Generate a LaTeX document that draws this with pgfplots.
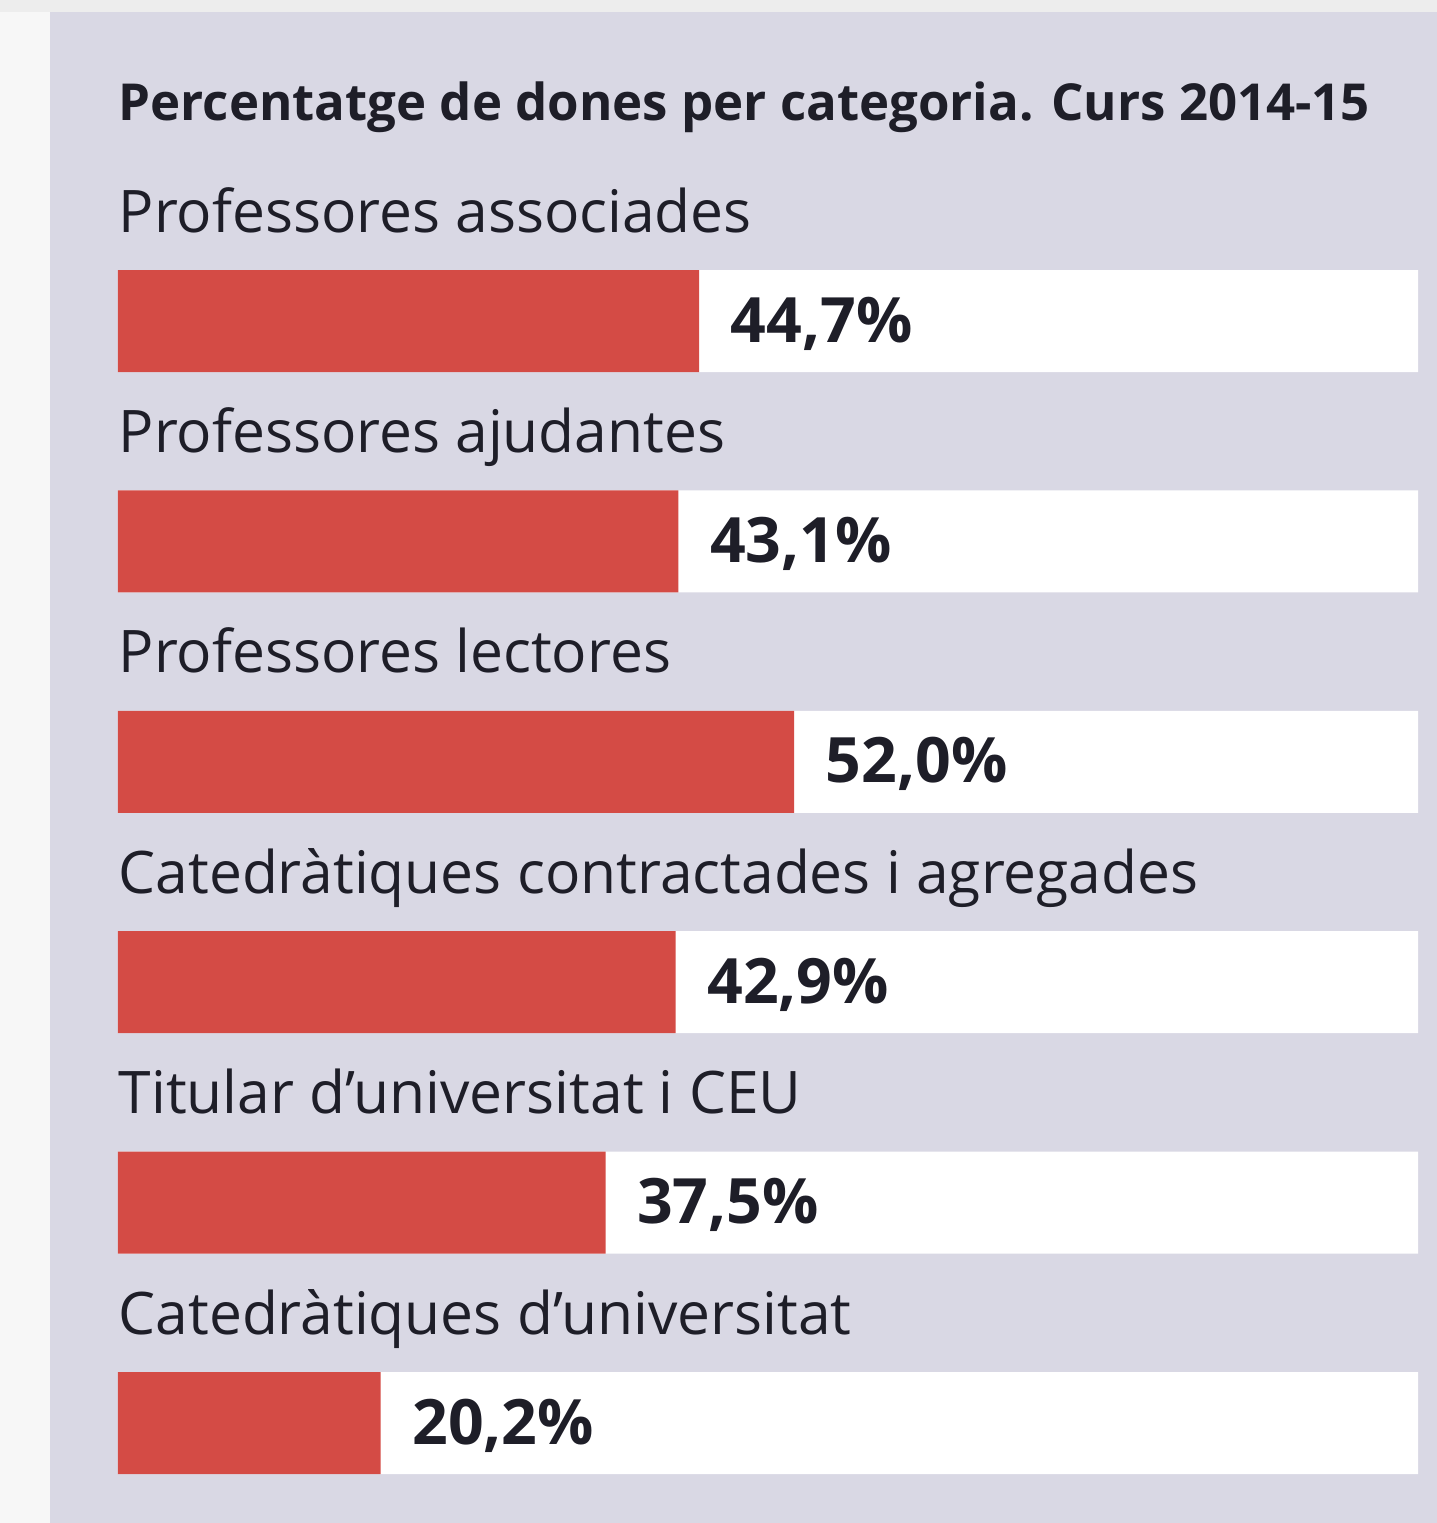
\documentclass[border=0pt]{standalone}
\usepackage{pgfplots}
\pgfplotsset{compat=1.18}
\usepackage{fontspec}
\setmainfont{Open Sans}
\definecolor{panel}{HTML}{D9D8E4}
\definecolor{barred}{HTML}{D44B45}
\definecolor{ink}{HTML}{1E1E28}

\begin{document}
\begin{tikzpicture}
% page frame and panel
\fill[white!97!black] (0,0) rectangle (14.37,-15.23);
\fill[white!93!black] (0,0) rectangle (14.37,-0.12);
\fill[panel] (0.50,-0.12) rectangle (14.37,-15.23);

\node[anchor=base west, font=\fontsize{14.5}{17}\selectfont\bfseries, text=ink, inner sep=0pt]
    at (1.18,-1.20) {Percentatge de dones per categoria. Curs 2014-15};

\begin{axis}[
    at={(1.18cm,-3.21cm)}, anchor=north west,
    scale only axis,
    width=13cm, height=11.02cm,
    xmin=0, xmax=100,
    ymin=0, ymax=5,
    y dir=reverse,
    axis lines=none,
    clip=false,
    xbar,
    bar width=1.02cm,
    bar shift=0pt,
]

% track to 100%
\addplot[fill=white, draw=none]
    coordinates {(100,0) (100,1) (100,2) (100,3) (100,4) (100,5)};

% share of women
\addplot[fill=barred, draw=none,
    point meta=explicit symbolic,
    nodes near coords,
    nodes near coords style={anchor=base west, xshift=0.31cm, yshift=-0.21cm,
        font=\fontsize{17.8}{20}\selectfont\bfseries, text=ink, inner sep=0pt}]
    coordinates {(44.7,0) [44,7\%] (43.1,1) [43,1\%] (52.0,2) [52,0\%]
                 (42.9,3) [42,9\%] (37.5,4) [37,5\%] (20.2,5) [20,2\%]};

\foreach \lab [count=\i from 0] in {Professores associades, Professores ajudantes,
    Professores lectores, Catedràtiques contractades i agregades,
    Titular d’universitat i CEU, Catedràtiques d’universitat} {
  \edef\temp{\noexpand\node[anchor=base west, inner sep=0pt, text=ink,
      font=\noexpand\fontsize{16.7}{20}\noexpand\selectfont]
      at ([yshift=0.89cm]axis cs:0,\i) {\lab};}
  \temp
}
\end{axis}
\end{tikzpicture}
\end{document}
